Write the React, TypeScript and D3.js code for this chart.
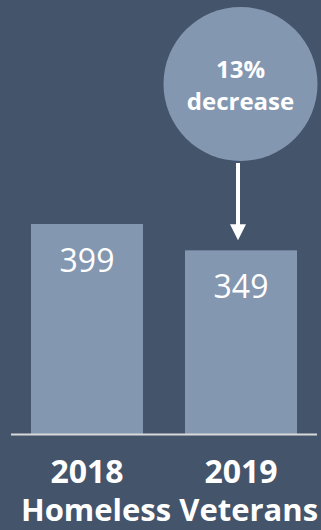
import React from "react";
import * as d3 from "d3";

const categories = ["2018", "2019"];
const values = [399, 349];
const axisTitle = "Homeless Veterans";
const calloutLines = ["13%", "decrease"];

const W = 321;
const H = 530;
const BG = "#44546A";
const BAR = "#8497B0";
const FONT = "'Open Sans', 'DejaVu Sans', sans-serif";

export default function App() {
  const x = d3
    .scaleBand<string>()
    .domain(categories)
    .range([10, 318])
    .paddingInner(0.2727)
    .paddingOuter(0.1364);
  const y = d3.scaleLinear().domain([0, 399]).range([434, 224]);

  const cx2 = (x("2019") as number) + x.bandwidth() / 2;
  const circleCx = cx2 - 0.5;
  const circleCy = 84;
  const r = 77;
  const arrowX = cx2 - 3;
  const arrowTop = circleCy + r + 2;
  const arrowTip = y(values[1]) - 10;

  return (
    <svg
      width={W}
      height={H}
      style={{ position: "fixed", left: 0, top: 0, display: "block" }}
    >
      <rect x={0} y={0} width={W} height={H} fill={BG} />
      {categories.map((c, i) => {
        const bx = x(c) as number;
        const cx = bx + x.bandwidth() / 2;
        return (
          <g key={c}>
            <rect
              x={bx}
              y={y(values[i])}
              width={x.bandwidth()}
              height={y(0) - y(values[i])}
              fill={BAR}
            />
            <text
              x={cx}
              y={y(values[i]) + 48}
              textAnchor="middle"
              fill="#fff"
              fontFamily={FONT}
              fontSize={32}
            >
              {values[i]}
            </text>
            <text
              x={cx}
              y={483}
              textAnchor="middle"
              fill="#fff"
              fontFamily={FONT}
              fontWeight={700}
              fontSize={32}
            >
              {c}
            </text>
          </g>
        );
      })}
      <line x1={11} x2={317} y1={434.5} y2={434.5} stroke="#D9D9D9" strokeWidth={2} />
      <text
        x={169.5}
        y={521}
        textAnchor="middle"
        fill="#fff"
        fontFamily={FONT}
        fontWeight={700}
        fontSize={31}
      >
        {axisTitle}
      </text>
      <circle cx={circleCx} cy={circleCy} r={r} fill={BAR} />
      <text
        x={circleCx}
        y={78}
        textAnchor="middle"
        fill="#fff"
        fontFamily={FONT}
        fontWeight={700}
        fontSize={24}
      >
        {calloutLines[0]}
      </text>
      <text
        x={circleCx}
        y={110}
        textAnchor="middle"
        fill="#fff"
        fontFamily={FONT}
        fontWeight={700}
        fontSize={24}
      >
        {calloutLines[1]}
      </text>
      <line
        x1={arrowX}
        x2={arrowX}
        y1={arrowTop}
        y2={arrowTip - 14}
        stroke="#fff"
        strokeWidth={4}
      />
      <path
        d={`M${arrowX - 8},${arrowTip - 16} L${arrowX + 8},${arrowTip - 16} L${arrowX},${arrowTip} Z`}
        fill="#fff"
      />
    </svg>
  );
}
